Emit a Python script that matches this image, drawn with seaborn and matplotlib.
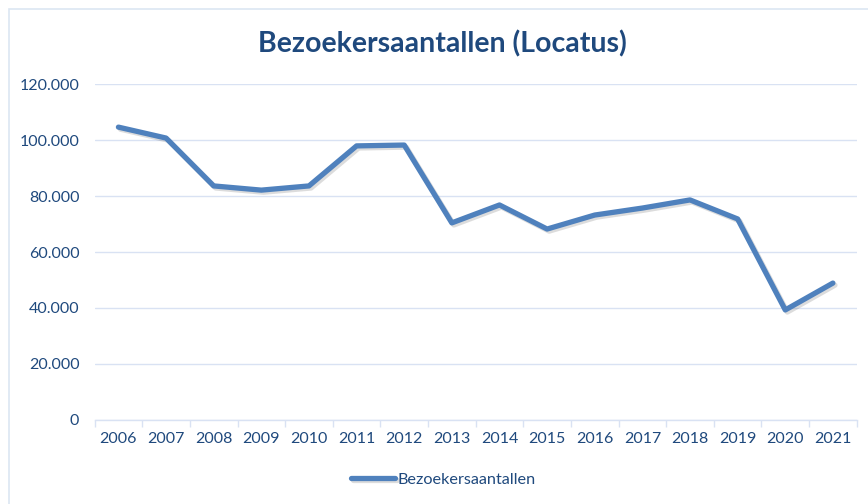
import matplotlib
matplotlib.use("Agg")
import matplotlib.pyplot as plt
import matplotlib.patheffects as pe
import numpy as np
import pandas as pd
import seaborn as sns
from matplotlib.patches import Rectangle
from matplotlib.ticker import FuncFormatter, FixedLocator

years = [str(y) for y in range(2006, 2022)]
visitors = [104600, 100700, 83600, 82100, 83600, 97900, 98200, 70400,
            76800, 68200, 73200, 75700, 78600, 71800, 39300, 48900]
series_name = "Bezoekersaantallen"
title = "Bezoekersaantallen (Locatus)"

line_color = "#4F81BD"
text_color = "#1F497D"
grid_color = "#D9E2F3"

sns.set_theme(style="white")
plt.rcParams["font.family"] = ["Lato", "DejaVu Sans"]

data = pd.DataFrame({"year": years, "value": visitors, "serie": series_name})

fig = plt.figure(figsize=(8.68, 5.04), dpi=100)
ax = fig.add_axes([0.109, 0.1667, 0.878, 0.6666])

sns.lineplot(data=data, x="year", y="value", hue="serie", palette=[line_color],
             linewidth=3.8, ax=ax, sort=False,
             path_effects=[pe.SimpleLineShadow(offset=(1.5, -1.5), alpha=0.15),
                           pe.Normal()])

ax.set_xlim(-0.5, len(years) - 0.5)
ax.set_ylim(0, 120000)
ax.set_yticks(np.arange(0, 120001, 20000))
ax.yaxis.set_major_formatter(FuncFormatter(lambda v, p: f"{int(v):,}".replace(",", ".")))
ax.grid(axis="y", color=grid_color, linewidth=1)
ax.set_axisbelow(True)
ax.set_xlabel("")
ax.set_ylabel("")

for s in ["top", "right", "left"]:
    ax.spines[s].set_visible(False)
ax.spines["bottom"].set_color(grid_color)
ax.spines["bottom"].set_linewidth(1)

ax.xaxis.set_minor_locator(FixedLocator(np.arange(-0.5, len(years), 1.0)))
ax.tick_params(axis="x", which="minor", length=5, color=grid_color, width=1, bottom=True)
ax.tick_params(axis="x", which="major", length=0, pad=9, labelsize=11.5, labelcolor=text_color)
ax.tick_params(axis="y", length=0, pad=11, labelsize=11.5, labelcolor=text_color)

fig.suptitle(title, x=0.51, y=0.94, fontsize=20.5, fontweight="bold", color=text_color)

leg = ax.legend(loc="center", bbox_to_anchor=(0.511, 0.048), bbox_transform=fig.transFigure,
                frameon=False, fontsize=11.7, handlelength=2.7, handletextpad=0.15)
for t in leg.get_texts():
    t.set_color(text_color)

fig.patches.append(Rectangle((9 / 868, -0.1), 1.2, 1 - 9 / 504 + 0.1, transform=fig.transFigure,
                             fill=False, edgecolor="#DCE6F2", linewidth=1.2))

fig.savefig("out.png", dpi=100)
